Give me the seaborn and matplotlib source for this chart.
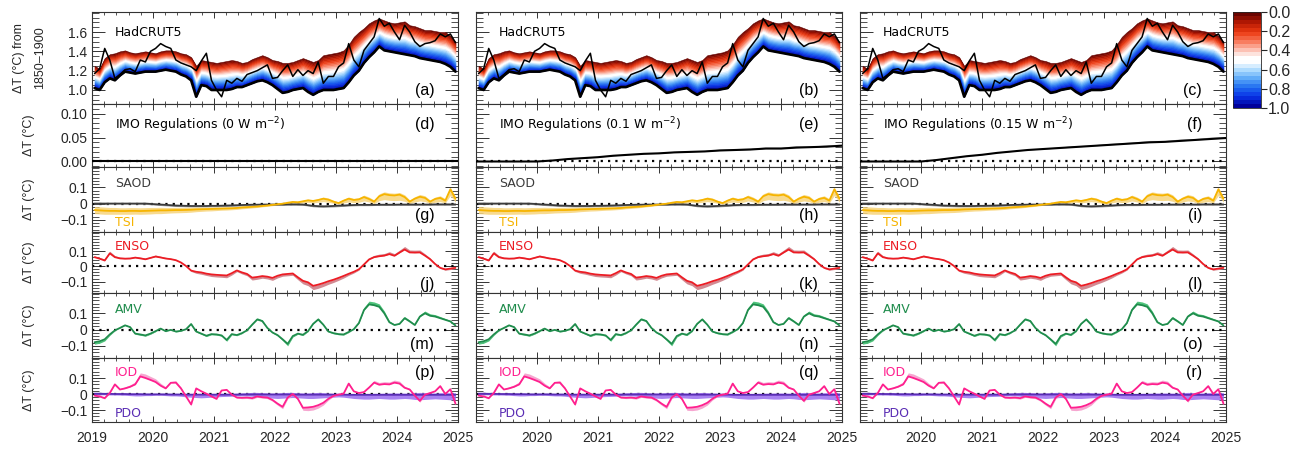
import numpy as np
import matplotlib
matplotlib.use("Agg")
import matplotlib.pyplot as plt
import seaborn as sns
from matplotlib.colors import LinearSegmentedColormap
from matplotlib.cm import ScalarMappable
from matplotlib.colors import Normalize
from matplotlib.ticker import MultipleLocator, FixedLocator, FixedFormatter

sns.set_style("ticks")
plt.rcParams['font.family'] = ['Liberation Sans', 'DejaVu Sans']
plt.rcParams['axes.unicode_minus'] = True

# ---------------- data: monthly values Jan 2019 - Dec 2024 ----------------
hadcrut5 = [1.17, 1.22, 1.43, 1.31, 1.12, 1.16, 1.21, 1.22, 1.19, 1.31, 1.29, 1.40,
            1.43, 1.48, 1.45, 1.43, 1.31, 1.28, 1.26, 1.24, 1.20, 1.30, 1.38, 1.10,
            1.00, 0.93, 1.10, 1.07, 1.12, 1.09, 1.16, 1.18, 1.20, 1.23, 1.26, 1.12,
            1.13, 1.20, 1.26, 1.14, 1.21, 1.15, 1.20, 1.17, 1.29, 1.07, 1.14, 1.14,
            1.24, 1.28, 1.48, 1.31, 1.24, 1.41, 1.48, 1.55, 1.74, 1.66, 1.69, 1.60,
            1.52, 1.67, 1.60, 1.50, 1.45, 1.48, 1.49, 1.51, 1.58, 1.55, 1.58, 1.49]

recon_upper = [1.25, 1.22, 1.33, 1.37, 1.38, 1.40, 1.41, 1.39, 1.38, 1.39, 1.40, 1.39,
               1.38, 1.40, 1.41, 1.41, 1.40, 1.38, 1.37, 1.34, 1.25, 1.31, 1.30, 1.29,
               1.28, 1.29, 1.30, 1.31, 1.30, 1.28, 1.29, 1.32, 1.34, 1.36, 1.34, 1.31,
               1.30, 1.28, 1.28, 1.29, 1.31, 1.33, 1.31, 1.29, 1.31, 1.36, 1.37, 1.38,
               1.39, 1.41, 1.47, 1.55, 1.60, 1.64, 1.69, 1.72, 1.74, 1.72, 1.70, 1.69,
               1.70, 1.71, 1.67, 1.66, 1.64, 1.62, 1.62, 1.61, 1.60, 1.60, 1.56, 1.50]

recon_lower = [1.02, 1.00, 1.08, 1.12, 1.10, 1.15, 1.19, 1.18, 1.17, 1.18, 1.19, 1.19,
               1.19, 1.20, 1.21, 1.20, 1.19, 1.16, 1.14, 1.10, 0.93, 1.05, 1.04, 1.00,
               1.00, 1.00, 1.00, 1.01, 1.03, 1.03, 1.05, 1.07, 1.09, 1.10, 1.08, 1.05,
               1.01, 0.97, 0.98, 1.00, 1.01, 1.02, 0.98, 0.95, 0.98, 1.00, 1.00, 1.00,
               1.01, 1.02, 1.08, 1.15, 1.20, 1.28, 1.34, 1.39, 1.45, 1.41, 1.40, 1.39,
               1.38, 1.37, 1.36, 1.35, 1.33, 1.32, 1.31, 1.30, 1.29, 1.27, 1.24, 1.19]

saod = [0.000, 0.000, 0.000, 0.000, 0.000, 0.000, 0.000, 0.000, 0.000, 0.000, 0.000, -0.002,
        -0.004, -0.006, -0.008, -0.010, -0.012, -0.013, -0.014, -0.015, -0.015, -0.015, -0.015, -0.014,
        -0.014, -0.013, -0.012, -0.011, -0.010, -0.009, -0.008, -0.007, -0.007, -0.006, -0.006, -0.006,
        -0.006, -0.006, -0.005, -0.005, -0.005, -0.006, -0.010, -0.014, -0.016, -0.017, -0.016, -0.015,
        -0.013, -0.012, -0.010, -0.009, -0.008, -0.008, -0.008, -0.008, -0.007, -0.007, -0.007, -0.007,
        -0.006, -0.006, -0.006, -0.006, -0.006, -0.006, -0.006, -0.005, -0.005, -0.005, -0.005, -0.005]
saod_lo = [-0.003, -0.003, -0.003, -0.003, -0.003, -0.003, -0.003, -0.003, -0.004, -0.004, -0.005, -0.007,
           -0.010, -0.012, -0.014, -0.016, -0.018, -0.019, -0.020, -0.021, -0.021, -0.021, -0.021, -0.020,
           -0.020, -0.019, -0.018, -0.017, -0.016, -0.015, -0.014, -0.013, -0.012, -0.011, -0.011, -0.011,
           -0.011, -0.011, -0.010, -0.010, -0.010, -0.011, -0.015, -0.020, -0.022, -0.023, -0.022, -0.021,
           -0.019, -0.017, -0.015, -0.014, -0.013, -0.013, -0.013, -0.012, -0.012, -0.012, -0.012, -0.011,
           -0.011, -0.011, -0.011, -0.011, -0.010, -0.010, -0.010, -0.010, -0.010, -0.010, -0.010, -0.010]

tsi = [-0.040, -0.042, -0.044, -0.045, -0.045, -0.046, -0.046, -0.045, -0.045, -0.046, -0.045, -0.044,
       -0.043, -0.042, -0.042, -0.041, -0.040, -0.040, -0.039, -0.038, -0.036, -0.035, -0.034, -0.033,
       -0.032, -0.031, -0.030, -0.029, -0.027, -0.024, -0.022, -0.020, -0.018, -0.015, -0.012, -0.008,
       -0.004, -0.001, 0.005, 0.010, 0.008, 0.014, 0.020, 0.016, 0.022, 0.030, 0.024, 0.012,
       0.003, 0.018, 0.030, 0.022, 0.026, 0.040, 0.028, 0.012, 0.045, 0.058, 0.052, 0.050,
       0.055, 0.040, 0.012, 0.030, 0.042, 0.035, 0.012, 0.028, 0.035, 0.018, 0.088, 0.030]
tsi_lo = [-0.062, -0.064, -0.066, -0.066, -0.066, -0.066, -0.066, -0.066, -0.065, -0.066, -0.065, -0.064,
          -0.062, -0.062, -0.060, -0.058, -0.057, -0.056, -0.055, -0.053, -0.050, -0.048, -0.046, -0.045,
          -0.043, -0.041, -0.040, -0.038, -0.036, -0.032, -0.030, -0.027, -0.024, -0.020, -0.017, -0.013,
          -0.009, -0.006, -0.002, 0.002, 0.000, 0.004, 0.008, 0.004, 0.008, 0.012, 0.008, 0.002,
          -0.004, 0.004, 0.010, 0.006, 0.008, 0.016, 0.010, 0.000, 0.018, 0.024, 0.020, 0.018,
          0.020, 0.014, 0.000, 0.010, 0.016, 0.012, 0.000, 0.008, 0.012, 0.004, 0.050, 0.008]
tsi_hi = [-0.018, -0.020, -0.022, -0.024, -0.024, -0.026, -0.026, -0.025, -0.025, -0.026, -0.025, -0.024,
          -0.024, -0.023, -0.024, -0.024, -0.023, -0.024, -0.023, -0.023, -0.022, -0.022, -0.022, -0.021,
          -0.021, -0.021, -0.020, -0.020, -0.018, -0.016, -0.014, -0.013, -0.012, -0.010, -0.007, -0.003,
          0.001, 0.004, 0.010, 0.016, 0.014, 0.020, 0.027, 0.023, 0.030, 0.040, 0.034, 0.020,
          0.010, 0.026, 0.040, 0.032, 0.036, 0.052, 0.040, 0.022, 0.060, 0.072, 0.066, 0.064,
          0.068, 0.054, 0.022, 0.042, 0.056, 0.048, 0.022, 0.040, 0.048, 0.030, 0.100, 0.042]

enso = [0.060, 0.050, 0.038, 0.085, 0.060, 0.052, 0.050, 0.051, 0.057, 0.052, 0.046, 0.055,
        0.064, 0.058, 0.051, 0.047, 0.040, 0.025, 0.002, -0.028, -0.036, -0.040, -0.048, -0.053,
        -0.056, -0.058, -0.060, -0.045, -0.027, -0.040, -0.050, -0.074, -0.070, -0.064, -0.068, -0.076,
        -0.062, -0.053, -0.050, -0.047, -0.072, -0.095, -0.105, -0.128, -0.120, -0.110, -0.098, -0.088,
        -0.076, -0.063, -0.049, -0.036, -0.020, 0.012, 0.045, 0.060, 0.066, 0.070, 0.080, 0.069,
        0.090, 0.110, 0.091, 0.090, 0.091, 0.070, 0.047, 0.015, -0.010, -0.020, -0.015, -0.010]
enso_spread = [0.008, 0.008, 0.010, 0.014, 0.010, 0.008, 0.008, 0.008, 0.008, 0.008, 0.008, 0.008,
               0.010, 0.008, 0.008, 0.006, 0.005, 0.004, 0.000, -0.006, -0.010, -0.012, -0.012, -0.014,
               -0.014, -0.014, -0.015, -0.012, -0.008, -0.010, -0.012, -0.016, -0.015, -0.014, -0.015, -0.016,
               -0.014, -0.012, -0.012, -0.012, -0.016, -0.020, -0.022, -0.025, -0.024, -0.022, -0.020, -0.018,
               -0.016, -0.014, -0.010, -0.008, -0.005, 0.004, 0.010, 0.012, 0.014, 0.014, 0.016, 0.014,
               0.016, 0.020, 0.016, 0.016, 0.016, 0.012, 0.008, 0.004, -0.004, -0.006, -0.006, -0.004]

amv = [-0.078, -0.072, -0.060, -0.030, -0.005, 0.010, 0.026, 0.015, -0.025, -0.030, -0.036, -0.025,
       -0.010, 0.006, -0.010, -0.002, -0.012, -0.008, 0.002, 0.034, -0.012, -0.025, -0.038, -0.028,
       -0.030, -0.036, -0.064, -0.028, -0.034, -0.022, -0.005, 0.030, 0.062, 0.052, 0.010, -0.018,
       -0.034, -0.060, -0.088, -0.040, -0.025, -0.032, -0.010, 0.035, 0.062, 0.030, -0.012, -0.022,
       -0.028, -0.030, -0.015, 0.002, 0.040, 0.120, 0.155, 0.150, 0.140, 0.100, 0.045, 0.028,
       0.035, 0.070, 0.050, 0.028, 0.080, 0.100, 0.085, 0.080, 0.070, 0.060, 0.050, 0.025]
amv_spread = [-0.012, -0.012, -0.010, -0.006, -0.003, 0.004, 0.006, 0.004, -0.004, -0.005, -0.005, -0.004,
              -0.003, 0.003, -0.003, 0.002, -0.003, -0.002, 0.002, 0.006, -0.003, -0.004, -0.005, -0.004,
              -0.004, -0.005, -0.008, -0.004, -0.004, -0.003, 0.002, 0.006, 0.010, 0.008, 0.003, -0.003,
              -0.005, -0.008, -0.012, -0.006, -0.004, -0.005, -0.002, 0.006, 0.010, 0.005, -0.003, -0.004,
              -0.004, -0.004, -0.003, 0.002, 0.008, 0.016, 0.020, 0.020, 0.018, 0.014, 0.008, 0.005,
              0.006, 0.010, 0.008, 0.005, 0.012, 0.014, 0.012, 0.012, 0.010, 0.008, 0.006, 0.004]

iod = [-0.010, -0.015, -0.026, 0.006, 0.060, 0.028, 0.035, 0.045, 0.060, 0.110, 0.100, 0.088,
       0.075, 0.052, 0.035, 0.070, 0.071, 0.035, -0.015, -0.065, 0.035, 0.017, 0.002, -0.015,
       -0.030, 0.022, 0.026, -0.004, -0.022, -0.024, -0.022, -0.026, -0.015, -0.020, -0.022, -0.037,
       -0.060, -0.080, -0.022, 0.000, -0.030, -0.086, -0.084, -0.080, -0.070, -0.055, -0.030, -0.012,
       -0.004, 0.002, 0.065, 0.017, 0.006, 0.012, 0.040, 0.071, 0.058, 0.062, 0.060, 0.071,
       0.065, 0.039, 0.028, -0.010, -0.043, -0.004, 0.006, 0.017, 0.049, 0.000, 0.030, -0.060]
iod_spread = [-0.003, -0.004, -0.005, 0.003, 0.008, 0.006, 0.010, 0.012, 0.016, 0.022, 0.025, 0.022,
              0.020, 0.015, 0.010, 0.008, 0.012, 0.008, -0.003, -0.008, 0.005, 0.003, -0.002, -0.004,
              -0.005, 0.003, 0.004, -0.002, -0.004, -0.005, -0.006, -0.006, -0.006, -0.006, -0.007, -0.008,
              -0.010, -0.012, -0.008, -0.004, -0.008, -0.016, -0.020, -0.020, -0.018, -0.014, -0.008, -0.004,
              -0.002, 0.002, 0.008, 0.004, 0.004, 0.006, 0.010, 0.014, 0.014, 0.015, 0.015, 0.016,
              0.015, 0.010, 0.006, -0.004, -0.008, -0.002, 0.002, 0.004, 0.008, 0.002, 0.004, -0.010]

pdo = [0.002, 0.002, 0.001, 0.001, 0.000, 0.000, 0.000, -0.001, -0.001, -0.001, -0.002, -0.002,
       -0.002, -0.002, -0.002, -0.003, -0.003, -0.003, -0.004, -0.004, -0.004, -0.004, -0.004, -0.004,
       -0.004, -0.004, -0.004, -0.004, -0.004, -0.003, -0.003, -0.003, -0.003, -0.003, -0.003, -0.003,
       -0.003, -0.003, -0.003, -0.004, -0.004, -0.004, -0.004, -0.004, -0.004, -0.004, -0.004, -0.004,
       -0.004, -0.004, -0.005, -0.005, -0.005, -0.005, -0.005, -0.005, -0.005, -0.005, -0.005, -0.005,
       -0.005, -0.005, -0.005, -0.005, -0.005, -0.005, -0.005, -0.005, -0.005, -0.005, -0.005, -0.005]
pdo_lo = [-0.004, -0.005, -0.005, -0.006, -0.006, -0.007, -0.008, -0.010, -0.012, -0.012, -0.010, -0.010,
          -0.008, -0.008, -0.010, -0.012, -0.012, -0.014, -0.018, -0.020, -0.022, -0.024, -0.022, -0.020,
          -0.018, -0.016, -0.015, -0.014, -0.012, -0.012, -0.012, -0.014, -0.018, -0.022, -0.024, -0.026,
          -0.028, -0.026, -0.024, -0.022, -0.024, -0.026, -0.028, -0.028, -0.026, -0.024, -0.022, -0.020,
          -0.018, -0.020, -0.024, -0.028, -0.030, -0.032, -0.032, -0.030, -0.028, -0.030, -0.032, -0.032,
          -0.030, -0.028, -0.030, -0.034, -0.036, -0.034, -0.032, -0.030, -0.032, -0.034, -0.036, -0.038]
pdo_hi = [0.005, 0.005, 0.004, 0.004, 0.003, 0.003, 0.003, 0.002, 0.002, 0.002, 0.001, 0.001,
          0.001, 0.001, 0.001, 0.000, 0.000, 0.000, 0.000, 0.000, 0.000, 0.000, 0.001, 0.002,
          0.002, 0.003, 0.004, 0.004, 0.005, 0.006, 0.008, 0.010, 0.010, 0.008, 0.006, 0.005,
          0.006, 0.008, 0.010, 0.010, 0.008, 0.006, 0.006, 0.008, 0.010, 0.008, 0.006, 0.004,
          0.003, 0.002, 0.001, 0.001, 0.001, 0.002, 0.003, 0.004, 0.004, 0.005, 0.006, 0.006,
          0.006, 0.005, 0.006, 0.008, 0.010, 0.008, 0.006, 0.006, 0.008, 0.008, 0.008, 0.008]

# IMO 2020 sulphur regulation response, quarterly from 2019.0 to 2025.0
imo_time = [2019.0, 2019.25, 2019.5, 2019.75, 2020.0, 2020.25, 2020.5, 2020.75, 2021.0,
            2021.25, 2021.5, 2021.75, 2022.0, 2022.25, 2022.5, 2022.75, 2023.0,
            2023.25, 2023.5, 2023.75, 2024.0, 2024.25, 2024.5, 2024.75, 2025.0]
imo_0 = [0.0] * 25
imo_01 = [0, 0, 0, 0, 0, 0.002, 0.005, 0.007, 0.009, 0.012, 0.014, 0.016, 0.017,
          0.019, 0.020, 0.021, 0.023, 0.024, 0.025, 0.027, 0.027, 0.029, 0.030, 0.031, 0.033]
imo_01_hi = [0, 0, 0, 0, 0, 0.002, 0.005, 0.008, 0.010, 0.013, 0.015, 0.017, 0.019,
             0.021, 0.023, 0.023, 0.026, 0.027, 0.028, 0.030, 0.030, 0.033, 0.032, 0.035, 0.036]
imo_015 = [0, 0, 0, 0, 0, 0.003, 0.007, 0.011, 0.014, 0.018, 0.021, 0.024, 0.026,
           0.028, 0.030, 0.032, 0.034, 0.036, 0.038, 0.040, 0.041, 0.043, 0.045, 0.047, 0.049]
imo_015_hi = [0, 0, 0, 0, 0, 0.003, 0.007, 0.011, 0.015, 0.019, 0.022, 0.025, 0.028,
              0.030, 0.033, 0.034, 0.037, 0.039, 0.041, 0.044, 0.044, 0.047, 0.048, 0.051, 0.052]

imo_cases = [("0", imo_0, imo_0), ("0.1", imo_01, imo_01_hi), ("0.15", imo_015, imo_015_hi)]
year_ticks = [2019, 2020, 2021, 2022, 2023, 2024, 2025]

time = 2019 + (np.arange(len(hadcrut5)) + 0.5) / 12.0

# ---------------- colours ----------------
fan_cmap = LinearSegmentedColormap.from_list("fan", [
    (0.00, "#6a0400"), (0.10, "#b81a04"), (0.20, "#ec3a12"), (0.30, "#f87a5c"),
    (0.40, "#fcc8bc"), (0.47, "#ffffff"), (0.52, "#ffffff"), (0.60, "#b6e0ff"),
    (0.70, "#5eaaf8"), (0.80, "#1f6cf0"), (0.90, "#0830e6"), (1.00, "#00009a")])
NLEV = 24
fan_disc = fan_cmap.resampled(NLEV)

c_saod, c_saod_band = "#3c3c3c", "#8a8a8a"
c_tsi, c_tsi_band = "#f6b400", "#f7d47a"
c_enso, c_enso_band = "#ec1c24", "#d38a92"
c_amv, c_amv_band = "#1f8c4c", "#4fc47c"
c_iod, c_iod_band = "#ff1f8e", "#f59ccb"
c_pdo, c_pdo_band = "#5a2db4", "#9a6cf0"

# ---------------- layout ----------------
W, H = 1306, 449
fig = plt.figure(figsize=(W / 100, H / 100), dpi=100)
col_left = [92, 476, 860]
col_w = 366
rows = [(12, 104), (104, 167), (167, 232), (232, 293), (293, 358), (358, 422)]
letters = "adgjmpbehknqcfilor"

ylims = [(0.855, 1.807), (-0.0115, 0.12), (-0.175, 0.225), (-0.175, 0.225),
         (-0.175, 0.225), (-0.175, 0.225)]
ymajor = [([1.0, 1.2, 1.4, 1.6], ["1.0", "1.2", "1.4", "1.6"], 0.05),
          ([0.0, 0.05, 0.10], ["0.00", "0.05", "0.10"], 0.01)] + \
         [([-0.1, 0.0, 0.1], ["\u22120.1", "0", "0.1"], 0.02)] * 4
letter_y = [0.15, 0.67, 0.26, 0.14, 0.20, 0.77]

inner_font = dict(family=["DejaVu Sans"], fontsize=9)


def zero_line(ax):
    ax.axhline(0, color="black", lw=1.6, ls=(0, (1, 2.3)), zorder=1)


def style(ax, r, c):
    ax.set_xlim(2019, 2025)
    ax.set_ylim(*ylims[r])
    ax.xaxis.set_major_locator(FixedLocator(year_ticks))
    ax.xaxis.set_minor_locator(MultipleLocator(0.2))
    if r == 5:
        labs = [str(y) for y in year_ticks]
        if c > 0:
            labs[0] = ""
        ax.xaxis.set_major_formatter(FixedFormatter(labs))
    else:
        ax.xaxis.set_major_formatter(FixedFormatter([""] * len(year_ticks)))
    ticks, labs, mnr = ymajor[r]
    ax.yaxis.set_major_locator(FixedLocator(ticks))
    ax.yaxis.set_major_formatter(FixedFormatter(labs if c == 0 else [""] * len(ticks)))
    ax.yaxis.set_minor_locator(MultipleLocator(mnr))
    ax.tick_params(axis="y", which="major", direction="in", length=9.5, width=0.7,
                   left=True, right=True, color="#333333", labelsize=10, pad=3.5)
    ax.tick_params(axis="y", which="minor", direction="in", length=4.8, width=0.6,
                   left=True, right=True, color="#333333")
    ax.tick_params(axis="x", which="major", direction="in", length=4.2, width=0.7,
                   top=True, bottom=True, color="#333333", labelsize=10, pad=6.5)
    ax.tick_params(axis="x", which="minor", direction="in", length=2.4, width=0.6,
                   top=True, bottom=True, color="#333333")
    for s in ax.spines.values():
        s.set_linewidth(0.8)
        s.set_color("#333333")
    ax.set_xlabel("")
    ax.set_ylabel("")
    ax.text(0.935, letter_y[r], "(" + letters[c * 6 + r] + ")", transform=ax.transAxes,
            ha="right", va="center", fontsize=11.5, color="black")


up = np.array(recon_upper)
lo = np.array(recon_lower)

for c in range(3):
    axes = []
    for r, (top, bot) in enumerate(rows):
        ax = fig.add_axes([col_left[c] / W, 1 - bot / H, col_w / W, (bot - top) / H])
        axes.append(ax)

    # (a) reconstruction fan and observations
    ax = axes[0]
    for k in range(NLEV):
        y_top = up - (up - lo) * k / NLEV
        y_bot = up - (up - lo) * (k + 1) / NLEV
        col = fan_disc(k)
        ax.fill_between(time, y_bot, y_top, color=col, lw=0.4, edgecolor=col, zorder=2)
    sns.lineplot(x=time, y=recon_lower, ax=ax, color="black", lw=1.9, estimator=None,
                 errorbar=None, legend=False, zorder=3)
    sns.lineplot(x=time, y=hadcrut5, ax=ax, color="black", lw=1.1, estimator=None,
                 errorbar=None, legend=False, zorder=4)
    ax.text(0.063, 0.78, "HadCRUT5", transform=ax.transAxes, ha="left", va="center",
            color="black", **inner_font)

    # (d) IMO regulations
    ax = axes[1]
    name, line, hi = imo_cases[c]
    zero_line(ax)
    ax.fill_between(imo_time, line, hi, color="#a8a8a8", lw=0, zorder=2)
    sns.lineplot(x=imo_time, y=line, ax=ax, color="black", lw=1.5, estimator=None,
                 errorbar=None, legend=False, zorder=3)
    ax.text(0.063, 0.67, "IMO Regulations (" + name + r" W m$^{-2}$)", transform=ax.transAxes,
            ha="left", va="center", color="black", **inner_font)

    # (g) SAOD and TSI
    ax = axes[2]
    zero_line(ax)
    ax.fill_between(time, saod_lo, saod, color=c_saod_band, lw=0, alpha=0.8, zorder=2)
    ax.fill_between(time, tsi_lo, tsi_hi, color=c_tsi_band, lw=0, alpha=0.85, zorder=2)
    sns.lineplot(x=time, y=saod, ax=ax, color=c_saod, lw=1.3, estimator=None,
                 errorbar=None, legend=False, zorder=3)
    sns.lineplot(x=time, y=tsi, ax=ax, color=c_tsi, lw=1.3, estimator=None,
                 errorbar=None, legend=False, zorder=4)
    ax.text(0.063, 0.75, "SAOD", transform=ax.transAxes, ha="left", va="center",
            color=c_saod, **inner_font)
    ax.text(0.063, 0.14, "TSI", transform=ax.transAxes, ha="left", va="center",
            color=c_tsi, **inner_font)

    # (j) ENSO
    ax = axes[3]
    zero_line(ax)
    ax.fill_between(time, enso, np.array(enso) + np.array(enso_spread),
                    color=c_enso_band, lw=0, zorder=2)
    sns.lineplot(x=time, y=enso, ax=ax, color=c_enso, lw=1.3, estimator=None,
                 errorbar=None, legend=False, zorder=3)
    ax.text(0.063, 0.76, "ENSO", transform=ax.transAxes, ha="left", va="center",
            color=c_enso, **inner_font)

    # (m) AMV
    ax = axes[4]
    zero_line(ax)
    ax.fill_between(time, amv, np.array(amv) + np.array(amv_spread),
                    color=c_amv_band, lw=0, zorder=2)
    sns.lineplot(x=time, y=amv, ax=ax, color=c_amv, lw=1.3, estimator=None,
                 errorbar=None, legend=False, zorder=3)
    ax.text(0.063, 0.74, "AMV", transform=ax.transAxes, ha="left", va="center",
            color=c_amv, **inner_font)

    # (p) IOD and PDO
    ax = axes[5]
    zero_line(ax)
    ax.fill_between(time, pdo_lo, pdo_hi, color=c_pdo_band, lw=0, alpha=0.85, zorder=2)
    ax.fill_between(time, iod, np.array(iod) + np.array(iod_spread),
                    color=c_iod_band, lw=0, alpha=0.9, zorder=2)
    sns.lineplot(x=time, y=pdo, ax=ax, color=c_pdo, lw=1.3, estimator=None,
                 errorbar=None, legend=False, zorder=3)
    sns.lineplot(x=time, y=iod, ax=ax, color=c_iod, lw=1.3, estimator=None,
                 errorbar=None, legend=False, zorder=4)
    ax.text(0.063, 0.77, "IOD", transform=ax.transAxes, ha="left", va="center",
            color=c_iod, **inner_font)
    ax.text(0.063, 0.14, "PDO", transform=ax.transAxes, ha="left", va="center",
            color=c_pdo, **inner_font)

    for r, ax in enumerate(axes):
        style(ax, r, c)

# y-axis titles
fig.text(29.5 / W, 1 - 58 / H, "\u0394T (\u00b0C) from\n1850\u20131900", rotation=90,
         ha="center", va="center", fontsize=9, linespacing=2.0, multialignment="center")
for top, bot in rows[1:]:
    fig.text(29 / W, 1 - ((top + bot) / 2) / H, "\u0394T (\u00b0C)", rotation=90,
             ha="center", va="center", fontsize=9)

# colour bar for the fan levels
cax = fig.add_axes([1233 / W, 1 - 108 / H, 28 / W, 96 / H])
sm = ScalarMappable(norm=Normalize(0, 1), cmap=fan_disc)
cb = fig.colorbar(sm, cax=cax, orientation="vertical")
cax.invert_yaxis()
cb.set_ticks([0.0, 0.2, 0.4, 0.6, 0.8, 1.0])
cb.set_ticklabels(["0.0", "0.2", "0.4", "0.6", "0.8", "1.0"])
cax.tick_params(axis="y", direction="out", length=4, width=0.8, labelsize=11.5, pad=1,
                right=True, left=False)
cax.minorticks_off()
cb.outline.set_linewidth(0.6)

fig.savefig("out.png", dpi=100)
